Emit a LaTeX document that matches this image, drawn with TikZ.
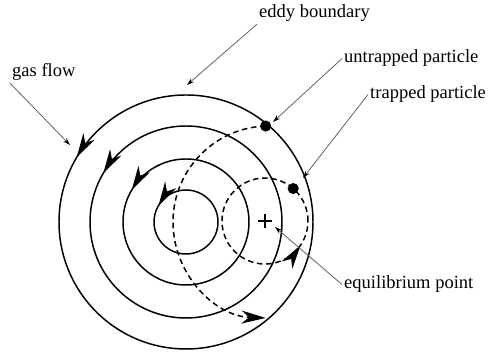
\documentclass[tikz,border=0pt]{standalone}
\usepackage{fontspec}
\setmainfont{Liberation Serif}
\usetikzlibrary{arrows.meta,decorations.markings}

\begin{document}
\begin{tikzpicture}[x=0.54pt, y=0.54pt,
    orbit/.style={line width=0.8pt},
    track/.style={line width=0.8pt, dash pattern=on 3pt off 2pt},
    flowarrow/.style={postaction={decorate}, decoration={markings, mark=at position #1 with {\arrow{Stealth[length=13pt, width=7pt, inset=4pt]}}}},
    leader/.style={line width=0.4pt, black!65, -{Stealth[length=4pt, width=2.5pt, black]}},
    lbl/.style={anchor=base west, inner sep=1pt, font=\fontsize{10}{12}\selectfont},
    dot/.style={circle, fill, inner sep=0pt, minimum size=6pt}]
    \useasboundingbox (0,0) rectangle (490,354);
    %centri
    \coordinate (O) at (186,132);
    \coordinate (E) at (265,133);
    \coordinate (U) at (269,132);
    %cerchi del vortice
    \foreach \r in {32,63,96,127}
        \draw[orbit, flowarrow=0.415] (O) circle[radius=\r];
    %particella intrappolata
    \draw[track, flowarrow=0.905] (E) circle[radius=43];
    \path (E) ++(49:43) node[dot] (trapdot) {};
    %particella libera
    \draw[track, -{Stealth[length=13pt, width=7pt, inset=4pt]}] (U) ++(92:96) arc[start angle=92, end angle=268, radius=96];
    \path (U) ++(92:96) node[dot] (freedot) {};
    %punto di equilibrio
    \draw[orbit] (E) ++(-7,0) -- ++(14,0);
    \draw[orbit] (E) ++(0,-7) -- ++(0,14);
    %etichette
    \node[lbl] (eddylbl) at (257,336) {eddy boundary};
    \node[lbl] (gaslbl) at (10,277) {gas flow};
    \node[lbl] (freelbl) at (342,291) {untrapped particle};
    \node[lbl] (traplbl) at (368,255) {trapped particle};
    \node[lbl] (eqlbl) at (342,65) {equilibrium point};
    \coordinate (eddytip) at (187,269);
    \coordinate (gastip) at (70,209);
    \coordinate (freetip) at (273,232);
    \coordinate (traptip) at (303,176);
    \coordinate (eqtip) at (275,127);
    %frecce
    \draw[leader] (eddylbl.south west) -- (eddytip);
    \draw[leader] (gaslbl.south west) -- (gastip);
    \draw[leader] (freelbl.west) -- (freetip);
    \draw[leader] (traplbl.west) -- (traptip);
    \draw[leader] (eqlbl.west) -- (eqtip);
\end{tikzpicture}
\end{document}
